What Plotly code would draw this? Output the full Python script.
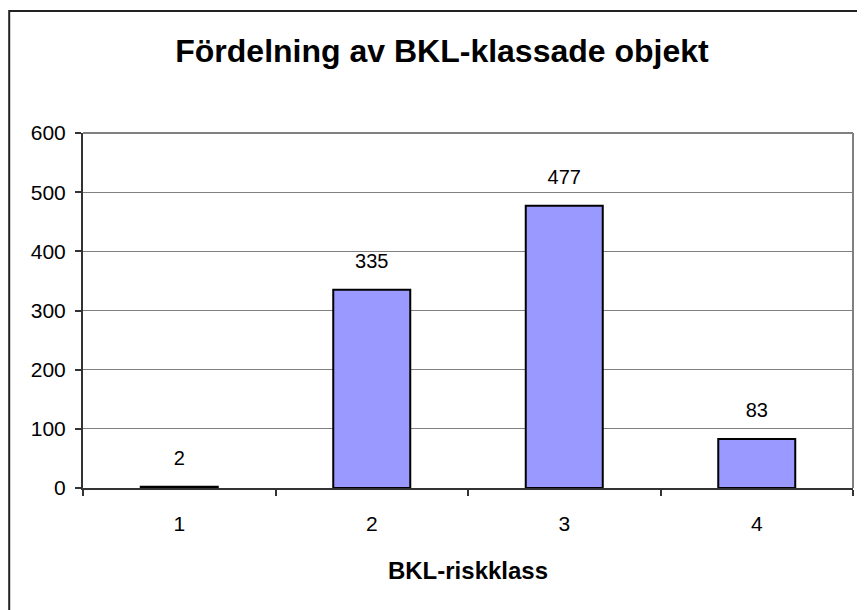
import plotly.graph_objects as go

categories = ["1", "2", "3", "4"]
values = [2, 335, 477, 83]
y_ticks = [0, 100, 200, 300, 400, 500, 600]

OFF = 8  # page body margin offset
W, H = 865, 610
ML, MT = 83 - OFF, 133 - OFF
PW, PH = 770, 355
MR, MB = W - ML - PW, H - MT - PH
FONT = "Liberation Sans, Arial, sans-serif"

fig = go.Figure()
fig.add_trace(go.Bar(
    x=categories, y=values,
    marker=dict(color="#9999FF", line=dict(color="#000000", width=2)),
    hoverinfo="skip",
))
# value labels above bars
fig.add_trace(go.Scatter(
    x=categories, y=values, mode="markers+text",
    text=[str(v) for v in values], textposition="top center",
    marker=dict(size=25, opacity=0),
    textfont=dict(family=FONT, size=20, color="#000000"),
    hoverinfo="skip", cliponaxis=False,
))

# plot-area top and right border (gray)
fig.add_shape(type="line", xref="x domain", yref="y domain", x0=0, x1=1, y0=1, y1=1,
              line=dict(color="#808080", width=2))
fig.add_shape(type="line", xref="x domain", yref="y domain", x0=1, x1=1, y0=0, y1=1,
              line=dict(color="#808080", width=2))

# outer chart border (left and top visible)
bx = (1.2 - ML) / PW
by = 1 + (MT - 3) / PH
fig.add_shape(type="rect", xref="paper", yref="paper", x0=bx, x1=1.5, y0=-1.0, y1=by,
              line=dict(color="#222222", width=2), layer="above")

fig.update_layout(
    width=W, height=H,
    margin=dict(l=ML, r=MR, t=MT, b=MB),
    paper_bgcolor="#FFFFFF", plot_bgcolor="#FFFFFF",
    showlegend=False,
    bargap=0.6,
    font=dict(family=FONT, color="#000000"),
    title=dict(text="<b>Fördelning av BKL-klassade objekt</b>",
               x=(442 - OFF) / W, xanchor="center", y=1 - (51 - OFF) / H, yanchor="middle",
               xref="container", yref="container",
               font=dict(family=FONT, size=32, color="#000000")),
    xaxis=dict(
        type="category", tickson="boundaries", ticks="outside", ticklen=6,
        tickcolor="#333333", tickwidth=2,
        showline=True, linecolor="#333333", linewidth=2,
        showgrid=False, zeroline=False,
        tickfont=dict(family=FONT, size=21), ticklabelstandoff=16,
        title=dict(text="<b>BKL-riskklass</b>", font=dict(family=FONT, size=24), standoff=28),
    ),
    yaxis=dict(
        range=[0, 600], tickvals=y_ticks, ticks="outside", ticklen=6,
        tickcolor="#333333", tickwidth=2,
        showline=True, linecolor="#333333", linewidth=2,
        showgrid=True, gridcolor="#808080", gridwidth=1, zeroline=False,
        tickfont=dict(family=FONT, size=21), ticklabelstandoff=5,
    ),
)

fig.write_html("out.html")
